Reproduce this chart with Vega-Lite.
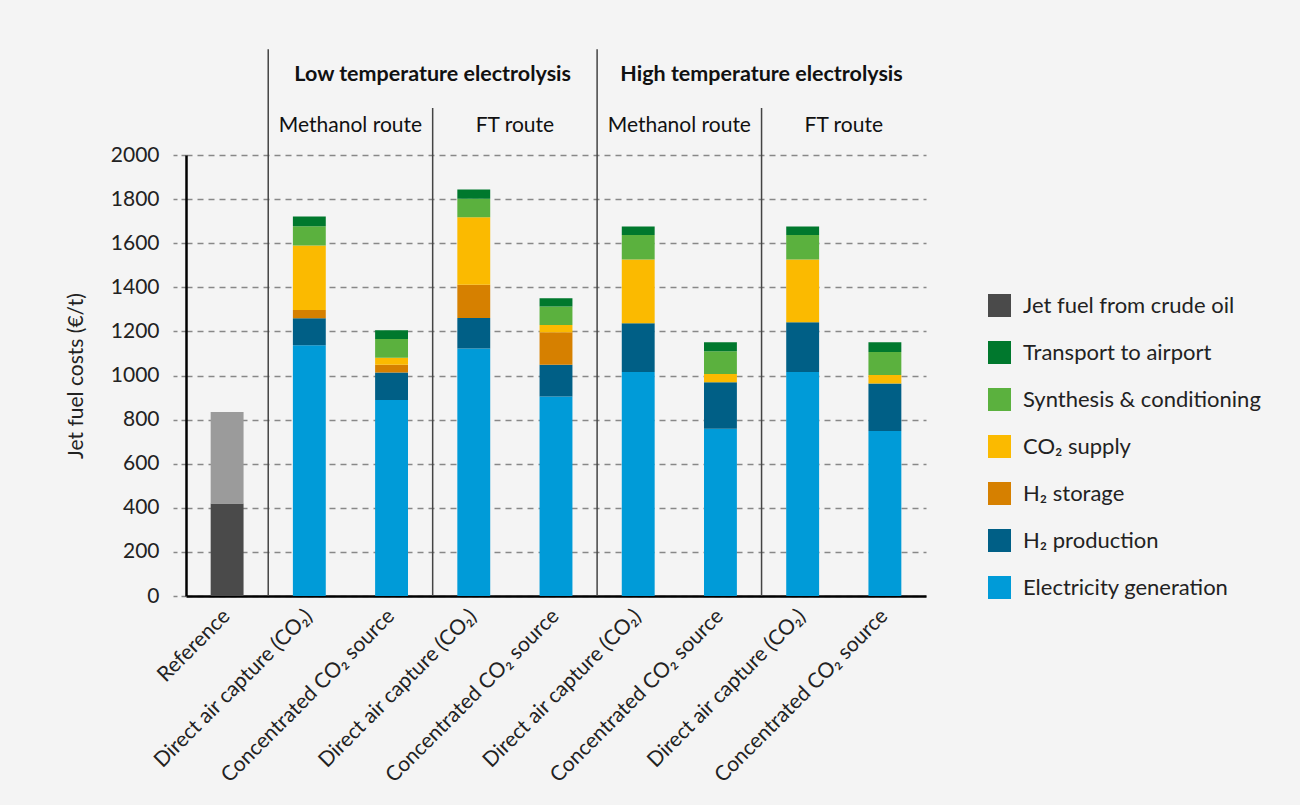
{
  "$schema": "https://vega.github.io/schema/vega-lite/v6.json",
  "autosize": "none",
  "width": 740,
  "height": 441,
  "padding": {"left": 186, "top": 155, "right": 374, "bottom": 209},
  "background": "#f4f4f4",
  "config": {
    "view": {"stroke": null},
    "font": "Lato",
    "axis": {"labelFont": "Lato", "titleFont": "Lato"},
    "legend": {"labelFont": "Lato"}
  },
  "datasets": {
    "bars": [
      {"cat": "Reference", "component": "Jet fuel from crude oil", "value": 420},
      {"cat": "Reference", "component": "Jet fuel from crude oil (upper range)", "value": 415},
      {"cat": "LT Methanol DAC", "component": "Electricity generation", "value": 1137},
      {"cat": "LT Methanol DAC", "component": "H₂ production", "value": 123},
      {"cat": "LT Methanol DAC", "component": "H₂ storage", "value": 37},
      {"cat": "LT Methanol DAC", "component": "CO₂ supply", "value": 293},
      {"cat": "LT Methanol DAC", "component": "Synthesis & conditioning", "value": 87},
      {"cat": "LT Methanol DAC", "component": "Transport to airport", "value": 44},
      {"cat": "LT Methanol Conc", "component": "Electricity generation", "value": 889},
      {"cat": "LT Methanol Conc", "component": "H₂ production", "value": 125},
      {"cat": "LT Methanol Conc", "component": "H₂ storage", "value": 35},
      {"cat": "LT Methanol Conc", "component": "CO₂ supply", "value": 32},
      {"cat": "LT Methanol Conc", "component": "Synthesis & conditioning", "value": 85},
      {"cat": "LT Methanol Conc", "component": "Transport to airport", "value": 39},
      {"cat": "LT FT DAC", "component": "Electricity generation", "value": 1122},
      {"cat": "LT FT DAC", "component": "H₂ production", "value": 139},
      {"cat": "LT FT DAC", "component": "H₂ storage", "value": 150},
      {"cat": "LT FT DAC", "component": "CO₂ supply", "value": 307},
      {"cat": "LT FT DAC", "component": "Synthesis & conditioning", "value": 84},
      {"cat": "LT FT DAC", "component": "Transport to airport", "value": 42},
      {"cat": "LT FT Conc", "component": "Electricity generation", "value": 905},
      {"cat": "LT FT Conc", "component": "H₂ production", "value": 144},
      {"cat": "LT FT Conc", "component": "H₂ storage", "value": 147},
      {"cat": "LT FT Conc", "component": "CO₂ supply", "value": 33},
      {"cat": "LT FT Conc", "component": "Synthesis & conditioning", "value": 84},
      {"cat": "LT FT Conc", "component": "Transport to airport", "value": 37},
      {"cat": "HT Methanol DAC", "component": "Electricity generation", "value": 1016},
      {"cat": "HT Methanol DAC", "component": "H₂ production", "value": 221},
      {"cat": "HT Methanol DAC", "component": "CO₂ supply", "value": 289},
      {"cat": "HT Methanol DAC", "component": "Synthesis & conditioning", "value": 111},
      {"cat": "HT Methanol DAC", "component": "Transport to airport", "value": 39},
      {"cat": "HT Methanol Conc", "component": "Electricity generation", "value": 758},
      {"cat": "HT Methanol Conc", "component": "H₂ production", "value": 211},
      {"cat": "HT Methanol Conc", "component": "CO₂ supply", "value": 38},
      {"cat": "HT Methanol Conc", "component": "Synthesis & conditioning", "value": 103},
      {"cat": "HT Methanol Conc", "component": "Transport to airport", "value": 41},
      {"cat": "HT FT DAC", "component": "Electricity generation", "value": 1016},
      {"cat": "HT FT DAC", "component": "H₂ production", "value": 225},
      {"cat": "HT FT DAC", "component": "CO₂ supply", "value": 285},
      {"cat": "HT FT DAC", "component": "Synthesis & conditioning", "value": 111},
      {"cat": "HT FT DAC", "component": "Transport to airport", "value": 39},
      {"cat": "HT FT Conc", "component": "Electricity generation", "value": 748},
      {"cat": "HT FT Conc", "component": "H₂ production", "value": 216},
      {"cat": "HT FT Conc", "component": "CO₂ supply", "value": 38},
      {"cat": "HT FT Conc", "component": "Synthesis & conditioning", "value": 105},
      {"cat": "HT FT Conc", "component": "Transport to airport", "value": 44}
    ],
    "separators": [
      {"cat": "LT Methanol DAC", "top": 2480},
      {"cat": "HT Methanol DAC", "top": 2480},
      {"cat": "LT FT DAC", "top": 2213},
      {"cat": "HT FT DAC", "top": 2213}
    ],
    "groups": [
      {"cat": "LT FT DAC", "label": "Low temperature electrolysis", "level": 2362},
      {"cat": "HT FT DAC", "label": "High temperature electrolysis", "level": 2362}
    ],
    "routes": [
      {"cat": "LT Methanol Conc", "label": "Methanol route", "level": 2131},
      {"cat": "LT FT Conc", "label": "FT route", "level": 2131},
      {"cat": "HT Methanol Conc", "label": "Methanol route", "level": 2131},
      {"cat": "HT FT Conc", "label": "FT route", "level": 2131}
    ]
  },
  "layer": [
    {
      "data": {"name": "bars"},
      "transform": [
        {"calculate": "indexof(['Jet fuel from crude oil', 'Jet fuel from crude oil (upper range)', 'Electricity generation', 'H₂ production', 'H₂ storage', 'CO₂ supply', 'Synthesis & conditioning', 'Transport to airport'], datum.component)", "as": "stackOrder"}
      ],
      "mark": {"type": "bar", "width": {"band": 0.4}},
      "encoding": {
        "x": {
          "field": "cat",
          "type": "nominal",
          "sort": ["Reference", "LT Methanol DAC", "LT Methanol Conc", "LT FT DAC", "LT FT Conc", "HT Methanol DAC", "HT Methanol Conc", "HT FT DAC", "HT FT Conc"],
          "scale": {"paddingInner": 0, "paddingOuter": 0},
          "axis": {
            "title": null,
            "labelAngle": -45,
            "labelFontSize": 21,
            "labelColor": "#222",
            "labelPadding": 9,
            "labelOffset": -8,
            "labelLimit": 400,
            "ticks": false,
            "domainColor": "#000",
            "domainWidth": 2.5,
            "labelExpr": "test(/DAC/, datum.value) ? 'Direct air capture (CO₂)' : (test(/Conc/, datum.value) ? 'Concentrated CO₂ source' : datum.value)"
          }
        },
        "y": {
          "field": "value",
          "type": "quantitative",
          "stack": "zero",
          "scale": {"domain": [0, 2000]},
          "axis": {
            "title": "Jet fuel costs (€/t)",
            "titleFontSize": 21,
            "titleFontWeight": "normal",
            "titleColor": "#222",
            "titlePadding": 24,
            "values": [0, 200, 400, 600, 800, 1000, 1200, 1400, 1600, 1800, 2000],
            "format": "d",
            "labelFontSize": 21,
            "labelColor": "#222",
            "labelPadding": 14,
            "tickSize": 13,
            "tickColor": "#888",
            "tickDash": [5, 4],
            "tickWidth": 1.5,
            "domainColor": "#000",
            "domainWidth": 2.5,
            "grid": true,
            "gridColor": "#888",
            "gridDash": [6, 5],
            "gridWidth": 1.5
          }
        },
        "order": {"field": "stackOrder", "type": "quantitative", "sort": "ascending"},
        "color": {
          "field": "component",
          "type": "nominal",
          "scale": {
            "domain": ["Jet fuel from crude oil", "Jet fuel from crude oil (upper range)", "Electricity generation", "H₂ production", "H₂ storage", "CO₂ supply", "Synthesis & conditioning", "Transport to airport"],
            "range": ["#4a4a4a", "#9b9b9b", "#009bd8", "#005f86", "#d68000", "#fbba00", "#5bb13e", "#00782d"]
          },
          "legend": {
            "title": null,
            "orient": "none",
            "legendX": 802,
            "legendY": 139,
            "padding": 0,
            "values": ["Jet fuel from crude oil", "Transport to airport", "Synthesis & conditioning", "CO₂ supply", "H₂ storage", "H₂ production", "Electricity generation"],
            "symbolType": "square",
            "symbolSize": 529,
            "symbolStrokeWidth": 0,
            "labelFontSize": 22,
            "labelColor": "#222",
            "labelOffset": 12,
            "rowPadding": 24,
            "labelLimit": 400
          }
        }
      }
    },
    {
      "data": {"name": "separators"},
      "mark": {"type": "rule", "color": "#444", "strokeWidth": 1.5},
      "encoding": {
        "x": {"field": "cat", "type": "nominal", "bandPosition": 0, "sort": ["Reference", "LT Methanol DAC", "LT Methanol Conc", "LT FT DAC", "LT FT Conc", "HT Methanol DAC", "HT Methanol Conc", "HT FT DAC", "HT FT Conc"]},
        "y": {"field": "top", "type": "quantitative"},
        "y2": {"datum": 0}
      }
    },
    {
      "data": {"name": "groups"},
      "mark": {"type": "text", "fontSize": 21.5, "fontWeight": "bold", "color": "#111", "baseline": "middle", "align": "center"},
      "encoding": {
        "x": {"field": "cat", "type": "nominal", "bandPosition": 0, "sort": ["Reference", "LT Methanol DAC", "LT Methanol Conc", "LT FT DAC", "LT FT Conc", "HT Methanol DAC", "HT Methanol Conc", "HT FT DAC", "HT FT Conc"]},
        "y": {"field": "level", "type": "quantitative"},
        "text": {"field": "label"}
      }
    },
    {
      "data": {"name": "routes"},
      "mark": {"type": "text", "fontSize": 21, "color": "#111", "baseline": "middle", "align": "center"},
      "encoding": {
        "x": {"field": "cat", "type": "nominal", "bandPosition": 0, "sort": ["Reference", "LT Methanol DAC", "LT Methanol Conc", "LT FT DAC", "LT FT Conc", "HT Methanol DAC", "HT Methanol Conc", "HT FT DAC", "HT FT Conc"]},
        "y": {"field": "level", "type": "quantitative"},
        "text": {"field": "label"}
      }
    }
  ]
}
